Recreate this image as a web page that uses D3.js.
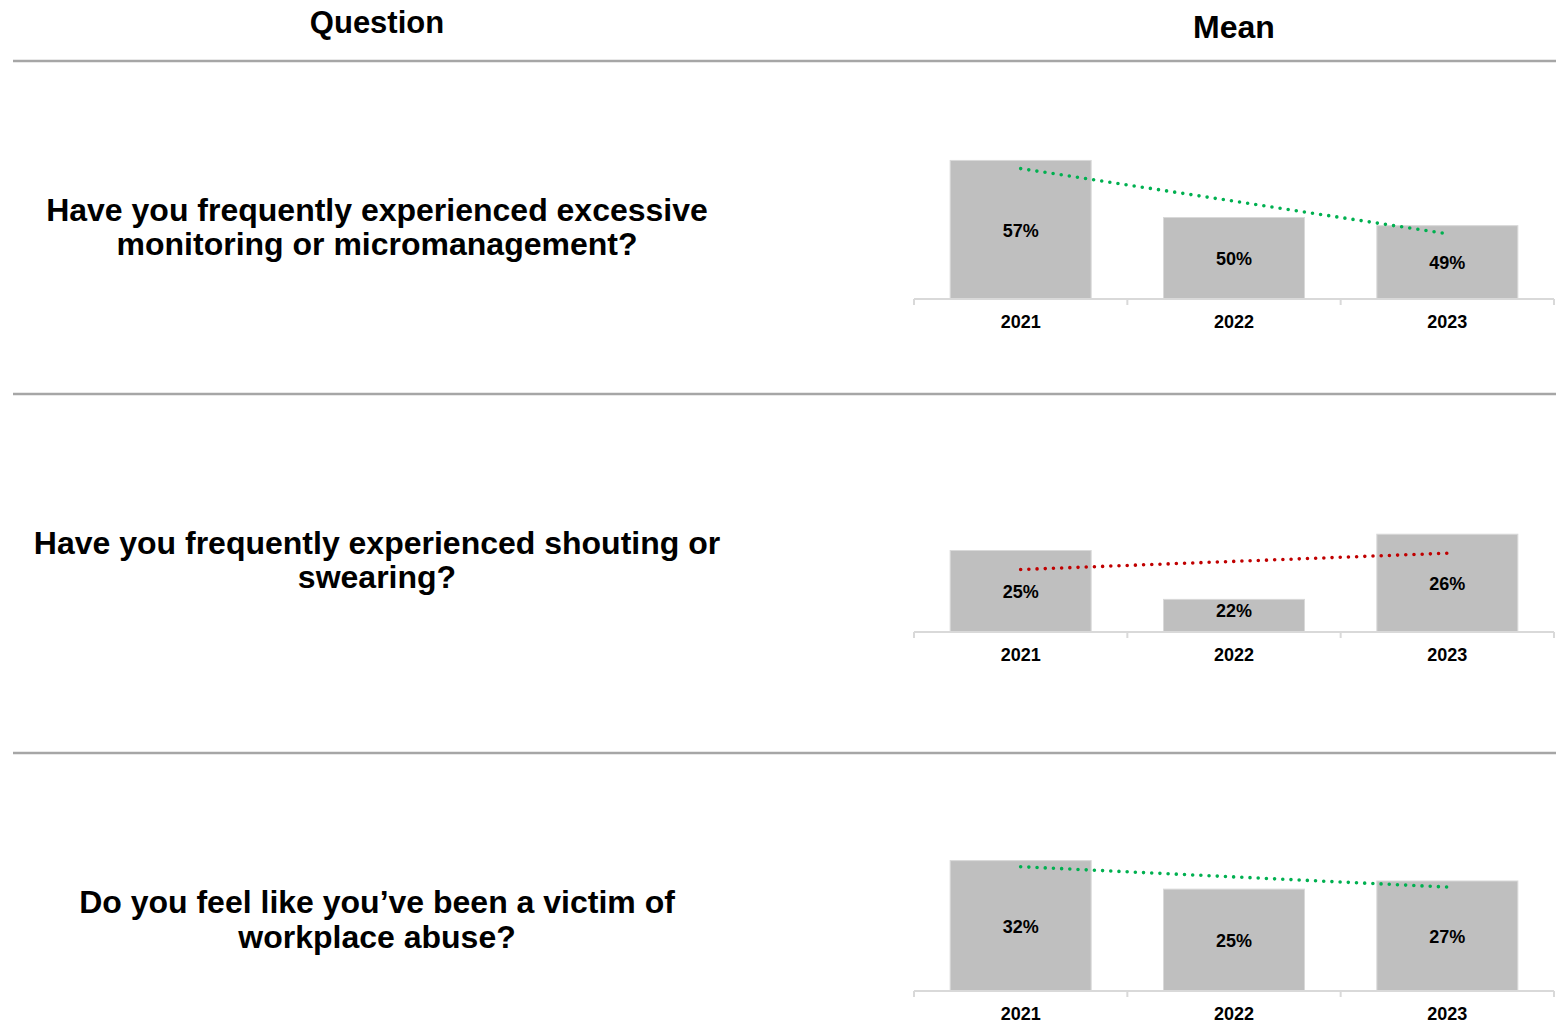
<!DOCTYPE html>
<html>
<head>
<meta charset="utf-8">
<script src="https://cdn.jsdelivr.net/npm/d3@7"></script>
<style>
  html, body { margin: 0; padding: 0; background: #fff; }
  svg { display: block; font-family: "Liberation Sans", Arial, sans-serif; }
</style>
</head>
<body>
<svg id="chart" width="1556" height="1024"></svg>
<script>
// Survey questions, one row each
const questions = [
  ["Have you frequently experienced excessive", "monitoring or micromanagement?"],
  ["Have you frequently experienced shouting or", "swearing?"],
  ["Do you feel like you\u2019ve been a victim of", "workplace abuse?"]
];
const years = ["2021", "2022", "2023"];
// Share answering yes, per question and year
const monitoring = [0.57, 0.50, 0.49];
const shouting   = [0.25, 0.22, 0.26];
const abuse      = [0.32, 0.25, 0.27];
// Value-axis range of each small chart
const axisRanges = [[0.40, 0.60], [0.20, 0.30], [0.00, 0.40]];

const series = [monitoring, shouting, abuse];

const svg = d3.select("#chart");
const W = 1556;

// Layout
const headerLineY = 61;
const rowLines = [394, 753];
const rowBaselines = [299, 632, 991];
const plotH = 163;
const plotX0 = 914, plotX1 = 1554;
const questionCx = 377;
const questionY = [[210, 244], [543, 577], [902, 937]];

// Column headers
svg.append("text").attr("x", 377).attr("y", 33).attr("text-anchor", "middle")
  .attr("font-size", 31).attr("font-weight", "bold").text("Question");
svg.append("text").attr("x", 1234).attr("y", 38).attr("text-anchor", "middle")
  .attr("font-size", 32).attr("font-weight", "bold").text("Mean");

// Horizontal separators
svg.append("line").attr("x1", 13).attr("x2", W).attr("y1", headerLineY).attr("y2", headerLineY)
  .attr("stroke", "#a6a6a6").attr("stroke-width", 2.5);
rowLines.forEach(y => {
  svg.append("line").attr("x1", 13).attr("x2", W).attr("y1", y).attr("y2", y)
    .attr("stroke", "#a6a6a6").attr("stroke-width", 2.5);
});

const x = d3.scaleBand().domain(years).range([plotX0, plotX1])
  .paddingInner(0.339).paddingOuter(0.339 / 2);

// Least-squares trend over year index 1..n
function trend(vals) {
  const xs = vals.map((_, i) => i + 1);
  const mx = d3.mean(xs), my = d3.mean(vals);
  const slope = d3.sum(xs, (xi, i) => (xi - mx) * (vals[i] - my)) / d3.sum(xs, xi => (xi - mx) ** 2);
  return xs.map(xi => my + slope * (xi - mx));
}

series.forEach((vals, r) => {
  const base = rowBaselines[r];
  const y = d3.scaleLinear().domain(axisRanges[r]).range([base, base - plotH]);
  const g = svg.append("g");

  // Question text
  const qt = g.append("text").attr("text-anchor", "middle")
    .attr("font-size", 32).attr("font-weight", "bold");
  questions[r].forEach((line, i) => {
    qt.append("tspan").attr("x", questionCx).attr("y", questionY[r][i] + 11).text(line);
  });

  // Bars
  g.selectAll("rect.bar").data(vals).join("rect")
    .attr("class", "bar")
    .attr("x", (d, i) => x(years[i]))
    .attr("width", x.bandwidth())
    .attr("y", d => y(d))
    .attr("height", d => base - y(d))
    .attr("fill", "#bfbfbf")
    .attr("stroke", "#d9d9d9").attr("stroke-width", 1);

  // Category axis
  const axis = d3.axisBottom(x).tickSize(0).tickPadding(0).tickFormat("");
  const ag = g.append("g").attr("transform", `translate(0,${base})`).call(axis);
  ag.select(".domain").remove();
  ag.append("line").attr("x1", plotX0).attr("x2", plotX1).attr("y1", 0).attr("y2", 0)
    .attr("stroke", "#d9d9d9").attr("stroke-width", 2);
  const bounds = [plotX0, ...years.slice(1).map(yr => x(yr) - x.step() * x.paddingInner() / 2), plotX1];
  ag.selectAll("line.tick-mark").data(bounds).join("line")
    .attr("class", "tick-mark")
    .attr("x1", d => d).attr("x2", d => d).attr("y1", 0).attr("y2", 6)
    .attr("stroke", "#d9d9d9").attr("stroke-width", 2);
  g.selectAll("text.year").data(years).join("text")
    .attr("class", "year")
    .attr("x", d => x(d) + x.bandwidth() / 2)
    .attr("y", base + 29)
    .attr("text-anchor", "middle").attr("font-size", 18).attr("font-weight", "bold")
    .text(d => d);

  // Value labels centred in each bar, kept clear of the axis on short bars
  g.selectAll("text.val").data(vals).join("text")
    .attr("class", "val")
    .attr("x", (d, i) => x(years[i]) + x.bandwidth() / 2)
    .attr("y", d => Math.min((y(d) + base) / 2, base - 22) + 7)
    .attr("text-anchor", "middle").attr("font-size", 18).attr("font-weight", "bold")
    .text(d => d3.format(".0%")(d));

  // Dotted linear trend line: green when falling, red when rising
  const t = trend(vals);
  const color = t[t.length - 1] < t[0] ? "#00b050" : "#c00000";
  const line = d3.line()
    .x((d, i) => x(years[i]) + x.bandwidth() / 2)
    .y(d => y(d));
  g.append("path").datum(t).attr("d", line)
    .attr("fill", "none").attr("stroke", color).attr("stroke-width", 3.6)
    .attr("stroke-linecap", "round").attr("stroke-dasharray", "0 8.2");
});
</script>
</body>
</html>
